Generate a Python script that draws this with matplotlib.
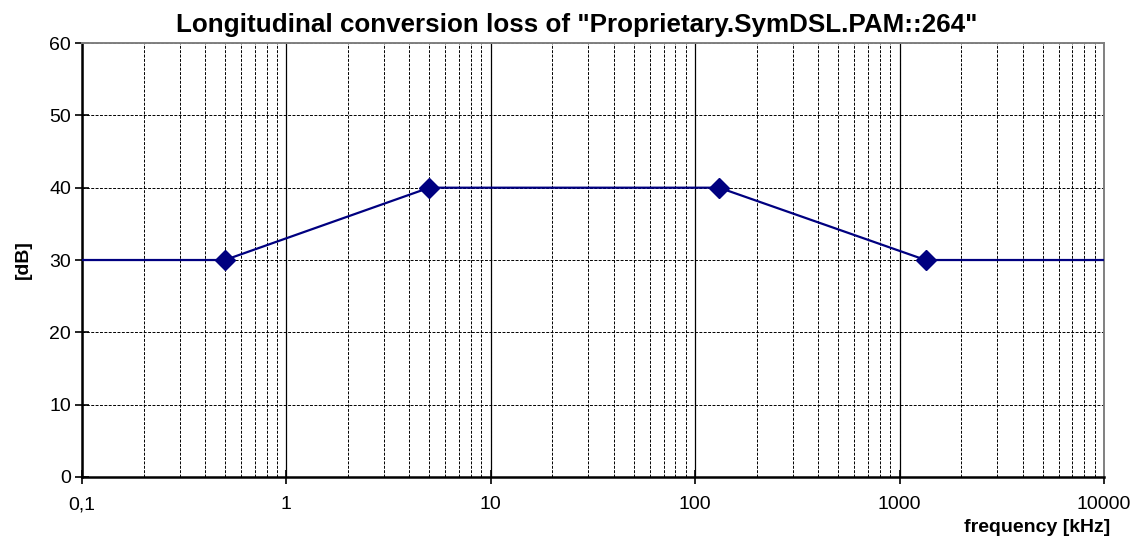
import matplotlib.pyplot as plt
from matplotlib.ticker import FixedLocator, LogLocator, NullFormatter

plt.rcParams['font.family'] = ['Liberation Sans', 'DejaVu Sans']

# line data (frequency in kHz, loss in dB)
freq = [0.1, 0.5, 5, 131, 1340, 10000]
loss = [30, 30, 40, 40, 30, 30]
# points drawn with diamond markers
mark_freq = [0.5, 5, 131, 1340]
mark_loss = [30, 40, 40, 30]

x_ticks = [0.1, 1, 10, 100, 1000, 10000]
x_labels = ['0,1', '1', '10', '100', '1000', '10000']
y_ticks = [0, 10, 20, 30, 40, 50, 60]

fig = plt.figure(figsize=(11.39, 5.38), dpi=100)
ax = fig.add_axes([0.072, 0.1134, 0.8973, 0.8066])

ax.plot(freq, loss, color='#000080', lw=1.6, zorder=3)
ax.plot(mark_freq, mark_loss, 'D', color='#000080', ms=10.5, zorder=4)

ax.set_xscale('log')
ax.set_xlim(0.1, 10000)
ax.set_ylim(0, 60)
ax.xaxis.set_major_locator(FixedLocator(x_ticks))
ax.set_xticklabels(x_labels)
ax.xaxis.set_minor_locator(LogLocator(base=10, subs=range(2, 10), numticks=50))
ax.xaxis.set_minor_formatter(NullFormatter())
ax.set_yticks(y_ticks)

# grid: solid decades, dashed minors and horizontals
ax.grid(True, which='major', axis='x', color='black', lw=0.9, ls='-')
ax.grid(True, which='minor', axis='x', color='black', lw=0.7, ls=(0, (3, 1.5)))
ax.grid(True, which='major', axis='y', color='black', lw=0.7, ls=(0, (3, 1.5)))
ax.set_axisbelow(True)

ax.tick_params(axis='both', which='major', direction='inout', length=10, width=1.2,
               labelsize=14, pad=3)
ax.tick_params(axis='x', which='minor', length=0)
ax.tick_params(axis='x', pad=9)

for s in ['left', 'bottom']:
    ax.spines[s].set_linewidth(1.8)
for s in ['top', 'right']:
    ax.spines[s].set_color('#808080')
    ax.spines[s].set_linewidth(1.4)

ax.set_title('Longitudinal conversion loss of "Proprietary.SymDSL.PAM::264"',
             fontsize=18.7, fontweight='bold', pad=8, x=0.484)
ax.set_ylabel('[dB]', fontsize=14, fontweight='bold')
ax.yaxis.set_label_coords(-0.049, 0.5)
fig.text(0.975, 0.004, 'frequency [kHz]', fontsize=14, fontweight='bold',
         ha='right', va='bottom')

fig.savefig('out.png', dpi=100)
